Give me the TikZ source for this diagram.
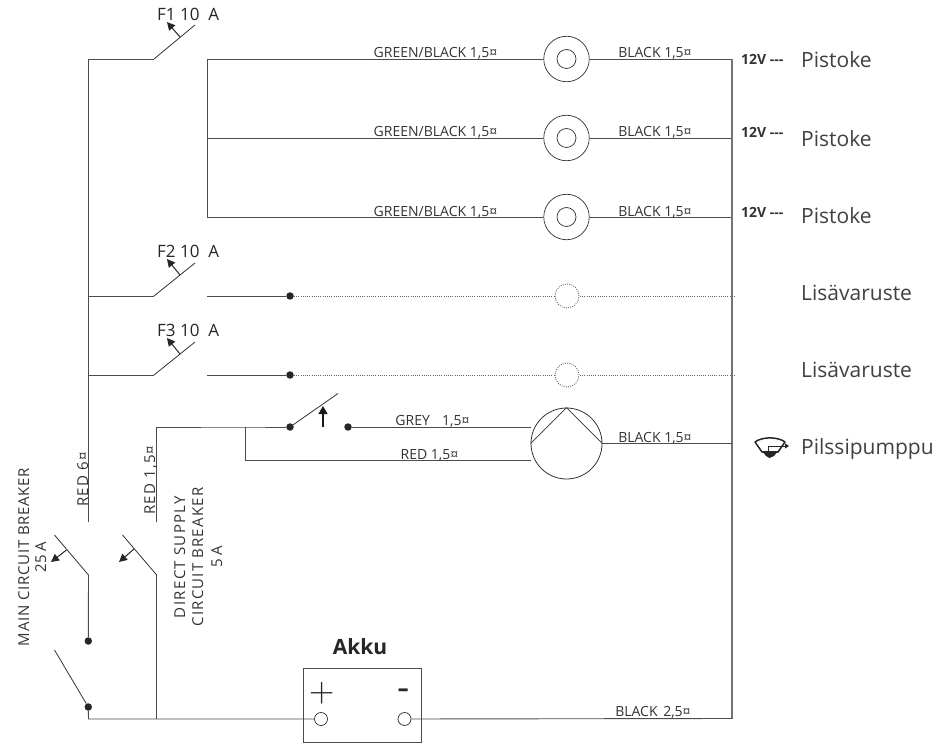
\documentclass[tikz,border=0pt]{standalone}
\usepackage{graphicx}
\usepackage{fontspec}
\setmainfont{Open Sans}
\usetikzlibrary{arrows.meta}
\newcommand{\lsp}[1]{\addfontfeature{LetterSpace=#1}}
\tikzset{
  x=1pt,y=-1pt,
  wire/.style={draw=black!70,line width=0.9pt},
  busr/.style={draw=black!55,line width=1.2pt},
  dotwire/.style={draw=black!60,line width=0.8pt,dash pattern=on 1pt off 1.2pt},
  blade/.style={draw=black!80,line width=0.8pt},
  act/.style={draw=black!85,line width=1pt,-{Triangle[length=8pt,width=8pt]}},
  jdot/.style={circle,fill=black!85,draw=none,inner sep=0pt,minimum size=7.5pt},
  term/.style={circle,draw=black!80,fill=white,line width=0.7pt,inner sep=0pt,minimum size=13pt},
  outerc/.style={circle,draw=black!80,fill=white,line width=0.7pt,inner sep=0pt,minimum size=45.5pt},
  innerc/.style={circle,draw=black!80,line width=0.7pt,inner sep=0pt,minimum size=19pt},
  dotc/.style={circle,dotwire,fill=white,inner sep=0pt,minimum size=24pt},
  pumpc/.style={circle,draw=black!80,fill=white,line width=0.8pt,inner sep=0pt,minimum size=71pt},
  wl/.style={inner sep=0pt,text=black!80,font=\fontsize{14}{16}\selectfont,anchor=base},
  fl/.style={inner sep=0pt,text=black!85,font=\fontsize{17}{19}\selectfont,anchor=base west},
  nm/.style={inner sep=0pt,text=black!75,font=\fontsize{21}{24}\selectfont,anchor=base west},
  vl/.style={inner sep=0pt,text=black!80,font=\bfseries\fontsize{14}{16}\selectfont,anchor=base west},
  rl/.style={inner sep=0pt,text=black!80,rotate=90,font=\fontsize{15}{17}\selectfont,anchor=base},
}
\begin{document}
\begin{tikzpicture}
\useasboundingbox (0,0) rectangle (937,743);
% bus corners and free ends
\coordinate (busTop) at (88.5,59);
\coordinate (busEnd) at (88.5,522);
\coordinate (f1a) at (154,59);
\coordinate (f1b) at (195,25);
\coordinate (f2j) at (88.5,296);
\coordinate (f2a) at (154,296);
\coordinate (f2b) at (195,263);
\coordinate (f3j) at (88.5,375);
\coordinate (f3a) at (154,375);
\coordinate (f3b) at (195,342);
\coordinate (rTop) at (732,59);
\coordinate (rBot) at (732,718.5);
\coordinate (l1) at (207,59);
\coordinate (l2) at (207,138);
\coordinate (l3) at (207,217);
\coordinate (r2) at (732,138);
\coordinate (r3) at (732,217);
\coordinate (f2s) at (207,296);
\coordinate (f3s) at (207,375);
\coordinate (d2e) at (735,296);
\coordinate (d3e) at (735,375);
\coordinate (supEnd) at (156.7,522);
\coordinate (supTop) at (156.7,427);
\coordinate (tee) at (245,427);
\coordinate (teeB) at (245,460.7);
\coordinate (swTip) at (338,393.5);
\coordinate (mA) at (88.5,575);
\coordinate (mB) at (54.5,535);
\coordinate (sA) at (156.7,575);
\coordinate (sB) at (122.5,535);
\coordinate (loB) at (54.5,650);
\coordinate (cor) at (88.5,719);
\coordinate (sJ) at (156.7,719);
% nodes
\node[outerc] (p1) at (566.5,59) {};
\node[outerc] (p2) at (566.5,138) {};
\node[outerc] (p3) at (566.5,217) {};
\node[innerc] (i1) at (566.5,59) {};
\node[innerc] (i2) at (566.5,138) {};
\node[innerc] (i3) at (566.5,217) {};
\node[jdot] (j2) at (290,296) {};
\node[jdot] (j3) at (290,375) {};
\node[jdot] (sw1) at (290,427) {};
\node[jdot] (sw2) at (348,427) {};
\node[jdot] (m1) at (88.3,641) {};
\node[jdot] (m2) at (88.3,707) {};
\node[draw=black!70,line width=0.9pt,minimum width=118.4pt,minimum height=74pt,inner sep=0pt] (batt) at (362.5,705.3) {};
\node[term] (tp) at (321,719) {};
\node[term] (tm) at (404.5,719) {};
% wires
\draw[wire] (busEnd) -- (busTop) -- (f1a);
\draw[blade] (f1a) -- (f1b);
\draw[wire] (l3) -- (l1) -- (p1);
\draw[wire] (l2) -- (p2);
\draw[wire] (l3) -- (p3);
\draw[wire] (p1) -- (rTop);
\draw[wire] (p2) -- (r2);
\draw[wire] (p3) -- (r3);
\draw[busr] (rTop) -- (rBot);
\draw[wire] (rBot) -- (tm);
\draw[wire] (f2j) -- (f2a);
\draw[blade] (f2a) -- (f2b);
\draw[wire] (f3j) -- (f3a);
\draw[blade] (f3a) -- (f3b);
\draw[wire] (f2s) -- (j2);
\draw[wire] (f3s) -- (j3);
\draw[dotwire] (j2) -- (d2e);
\draw[dotwire] (j3) -- (d3e);
\node[dotc] (o2) at (567,296) {};
\node[dotc] (o3) at (567,375) {};
% actuators
\draw[act] (180,37) -- (167,22);
\draw[act] (180,275) -- (167,259);
\draw[act] (180,354) -- (167,338);
% pump branch
\node[pumpc] (pump) at (566.5,443.5) {};
\draw[wire] (supEnd) -- (supTop) -- (tee) -- (sw1);
\draw[wire] (tee) -- (teeB) -- (teeB -| pump.west);
\draw[blade] (sw1) -- (swTip);
\draw[draw=black!90,line width=1.3pt,-{Triangle[length=8pt,width=9pt]}] (323,427) -- (323,406);
\draw[wire] (sw2) -- (sw2 -| pump.west);
\draw[blade] (pump.west) -- (pump.north) -- (pump.east);
\draw[wire] (pump.east) -- (732,443.5);
% breakers
\draw[blade] (mB) -- (mA);
\draw[wire] (mA) -- (m1);
\draw[blade] (loB) -- (m2);
\draw[wire] (m2) -- (cor) -- (tp);
\draw[blade] (sB) -- (sA);
\draw[wire] (sA) -- (sJ);
\draw[act] (66.5,550) -- (51,562);
\draw[act] (134,549) -- (119,562);
% fuse labels
\node[fl] (tf1) at (157,21) {F1 10\ \ A};
\node[fl] (tf2) at (157,258) {F2 10\ \ A};
\node[fl] (tf3) at (157,337) {F3 10\ \ A};
% wire labels
\foreach \n/\y in {a/58,b/137,c/216.5}{
  \node[wl] (g\n) at (435.5,\y) {GREEN/BLACK 1,5¤};
  \node[wl] (k\n) at (655,\y) {BLACK 1,5¤};
}
\node[wl] (kp) at (655,442) {BLACK 1,5¤};
\node[wl] (grey) at (432.5,425.7) {GREY\ \ \hspace{5pt}1,5¤};
\node[wl] (red) at (429.5,459) {RED 1,5¤};
\node[wl] (k25) at (653,716) {BLACK\ \hspace{2pt}2,5¤};
% right side
\node[vl] (v1) at (741,64.3) {12V {-}{-}{-}};
\node[vl] (v2) at (741,138) {12V {-}{-}{-}};
\node[vl] (v3) at (741,218) {12V {-}{-}{-}};
\node[nm] (n1) at (801,68) {Pistoke};
\node[nm] (n2) at (801,146.5) {Pistoke};
\node[nm] (n3) at (801,223.5) {Pistoke};
\node[nm] (n4) at (801,300.7) {Lisävaruste};
\node[nm] (n5) at (801,377.7) {Lisävaruste};
\node[nm] (n6) at (801,454.5) {Pilssipumppu};
% rotated labels
\node[rl,font=\fontsize{15}{17}\selectfont\lsp{8}] (rd6) at (88,479.5) {RED 6¤};
\node[rl,font=\fontsize{15}{17}\selectfont\lsp{8}] (rd15) at (155,480) {RED 1,5¤};
\node[rl,font=\fontsize{15}{17}\selectfont\lsp{5}] (mcb) at (29,557) {MAIN CIRCUIT BREAKER};
\node[rl] (a25) at (46,557) {25 A};
\node[rl,font=\fontsize{15}{17}\selectfont\lsp{9}] (ds) at (185,557) {DIRECT SUPPLY};
\node[rl,font=\fontsize{15}{17}\selectfont\lsp{8}] (ccb) at (203,557) {CIRCUIT BREAKER};
\node[rl] (a5) at (222,557) {5 A};
% battery labels
\node[inner sep=0pt,text=black!85,font=\bfseries\fontsize{21}{24}\selectfont] (ak) at (360,647) {Akku};
\node[inner sep=0pt,text=black!85] (pl) at (321.7,693) {\scalebox{3.3}{$+$}};
\node[inner sep=0pt,text=black!85,font=\fontsize{38}{42}\selectfont] (mi) at (404,695) {-};
% bilge pump icon
\draw[black!85,line width=1.5pt,line join=round] (755,442) .. controls (762,436.5) and (778,436.5) .. (785,442) -- (778,452) -- (762,452) -- cycle;
\fill[black!85] (762,451) -- (778,451) -- (774,456) -- (769.5,458) -- (766,456) -- cycle;
\draw[black!85,line width=0.9pt,-{Triangle[length=4pt,width=5pt]}] (768,451) -- (768,446) -- (789,446);
\end{tikzpicture}
\end{document}
